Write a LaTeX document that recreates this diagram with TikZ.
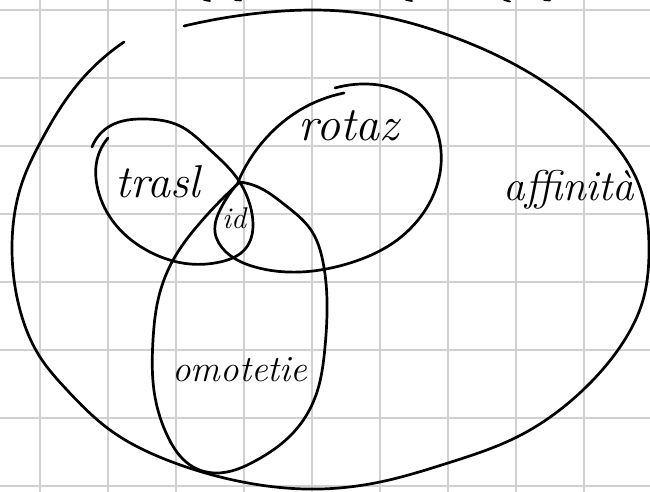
\documentclass[tikz,border=0pt]{standalone}
\usetikzlibrary{hobby}

\begin{document}
\begin{tikzpicture}[
    x=1pt, y=-1pt,
    use Hobby shortcut,
    gridline/.style={draw=black!18, line width=1.6pt},
    pen/.style={draw=black, line width=2.7pt, line cap=round, line join=round},
    hand/.style={font=\fontsize{#1}{#1}\selectfont\itshape, inner sep=0pt},
    hand/.default=44,
]
\useasboundingbox (0,0) rectangle (650,492);
\fill[white] (0,0) rectangle (650,492);

% squared paper
\foreach \gx in {40,108,...,584} \draw[gridline] (\gx,0) -- (\gx,492);
\foreach \gy in {10,78,...,486} \draw[gridline] (0,\gy) -- (650,\gy);

% bits of writing cut off at the top edge
\foreach \tx/\ty in {207/1, 238/0.5, 409/1, 507/1.5, 547/0.5}
    \draw[pen, line width=1.8pt] (\tx-3,0) -- (\tx+3,\ty);

% affinita (open at the top left)
\draw[pen] (184,26) .. (260,13) .. (312,10) .. (380,16) .. (448,35)
    .. (541,80) .. (600,128) .. (637,180) .. (649,250) .. (643,300)
    .. (620,347) .. (583,390) .. (517,437) .. (448,463) .. (380,482)
    .. (320,489) .. (233,480) .. (167,460) .. (110,430) .. (67,390)
    .. (40,357) .. (20,310) .. (12,250) .. (23,180) .. (40,143)
    .. (77,85) .. (124,42);

% trasl
\draw[pen] (92,147) .. (110,126) .. (145,119) .. (180,126) .. (208,148)
    .. (237,178) .. (250,205) .. (253,225) .. (246,248) .. (220,262)
    .. (190,264) .. (150,252) .. (115,224) .. (98,190) .. (97,160)
    .. (108,138);

% rotaz: long arm and loop
\draw[pen] (238,182) .. (267,137) .. (300,110) .. (344,93);
\draw[pen] (335,88) .. (362,84) .. (400,91) .. (427,112) .. (440,143)
    .. (439,178) .. (424,212) .. (393,243) .. (350,263) .. (300,272)
    .. (255,267) .. (226,252) .. (215,232) .. (221,208) .. (238,183);

% omotetie
\draw[pen] (240,182) .. (258,187) .. (285,205) .. (311,230) .. (323,262)
    .. (327,300) .. (325,347) .. (316,395) .. (293,433) .. (257,460)
    .. (215,473) .. (190,465) .. (168,437) .. (155,397) .. (153,340)
    .. (158,300) .. (172,262) .. (199,224) .. (240,182);

% labels
\node[hand=46] (trasl) at (158,182) {trasl};
\node[hand=48] (rotaz) at (349,126) {rotaz};
\node[hand=37] (omot)  at (240,370) {omotetie};
\node[hand=43] (aff)   at (569,190) {affinità};
\node[hand=30] (id)    at (234,218) {id};

\end{tikzpicture}
\end{document}
